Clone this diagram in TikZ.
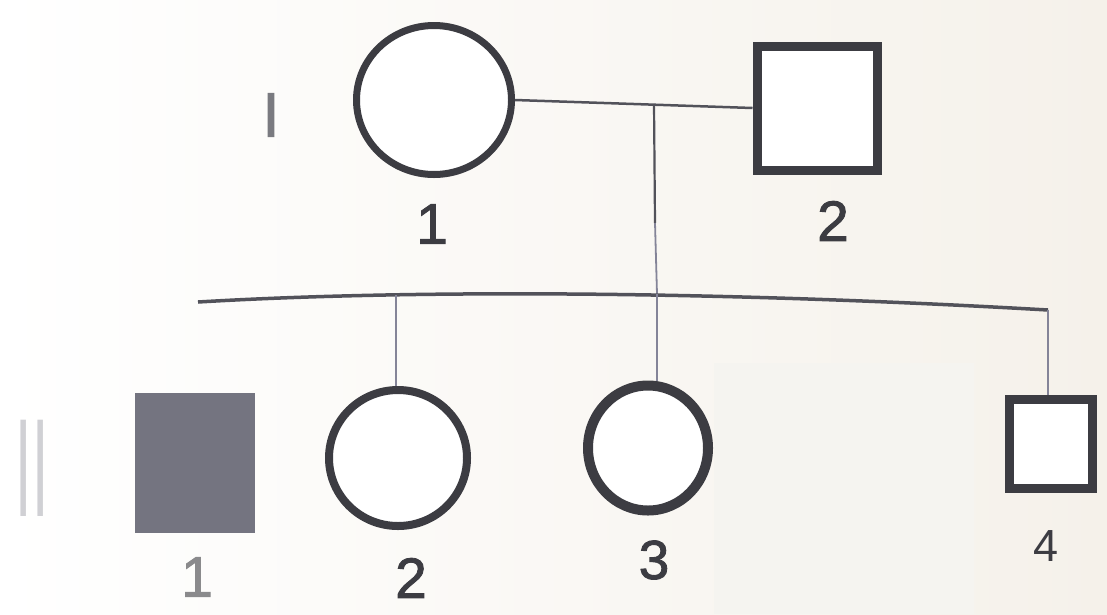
\documentclass[tikz,border=0pt]{standalone}
\usepackage{fontspec}
\setmainfont{Liberation Sans}
\newfontfamily\numfont{Liberation Sans}[FakeBold=1.6]
\usetikzlibrary{shapes.geometric}

\definecolor{ink}{RGB}{60,60,66}
\definecolor{linegray}{RGB}{82,82,90}
\definecolor{droplink}{RGB}{132,132,152}
\definecolor{shade}{RGB}{116,116,128}
\definecolor{paperwarm}{RGB}{245,241,234}
\definecolor{patch}{RGB}{245,244,240}

\tikzset{
  female/.style={ellipse, draw=ink, fill=white, inner sep=0pt},
  male/.style={rectangle, draw=ink, fill=white, inner sep=0pt},
  affected/.style={rectangle, fill=shade, inner sep=0pt},
  idlabel/.style={inner sep=0pt, text=ink, font=\numfont\fontsize{57}{57}\selectfont},
  genlabel/.style={inner sep=0pt},
  couple/.style={draw=linegray, line width=2.5pt},
  sibship/.style={draw=linegray, line width=3.5pt},
  drop/.style={draw=droplink, line width=1.8pt},
}

\begin{document}
\begin{tikzpicture}[x=1pt, y=-1pt]
  % page and paper tone
  \useasboundingbox (0,0) rectangle (1107,614);
  \shade[left color=white, middle color=white, right color=paperwarm] (0,0) rectangle (1107,614);

  % generation I
  \node[genlabel, text={rgb,255:red,122;green,122;blue,128}, font=\numfont\fontsize{63}{63}\selectfont] (genI) at (271,115) {I};
  \node[female, line width=7pt, minimum width=155pt, minimum height=149pt] (I1) at (434,100) {};
  \node[male, line width=9pt, minimum width=120pt, minimum height=124pt] (I2) at (817,108) {};
  \node[idlabel] (lI1) at (432,224) {1};
  \node[idlabel] (lI2) at (833,221) {2};

  % mating line and descent line
  \coordinate (m) at (654,104);
  \coordinate (k) at (655,223);
  \coordinate (sl) at (198,302);
  \coordinate (sr) at (1048,310);
  \coordinate (j2) at (396,295);
  \coordinate (j3) at (657,294);
  \draw[couple] (I1.east) -- (I2.west);
  \draw[couple, line width=2.2pt] (m) -- (k);
  \draw[drop] (k) -- (j3);

  % sibship line
  \draw[sibship] (sl) .. controls (400,290) and (700,290) .. (sr);

  % generation II
  \node[genlabel, text={rgb,255:red,208;green,208;blue,212}] (genII) at (32,468)
    {\scalebox{0.42}[1]{\fontsize{140}{140}\selectfont II}};
  \node[affected, minimum width=120pt, minimum height=140pt] (II1) at (195,463) {};
  \node[female, line width=8pt, minimum width=138pt, minimum height=136pt] (II2) at (398,458) {};
  \node[female, line width=10pt, minimum width=120pt, minimum height=125pt] (II3) at (648,448) {};
  \node[male, line width=9pt, minimum width=83pt, minimum height=89pt] (II4) at (1051,444) {};

  \draw[drop] (j2) -- (j2 |- II2.north);
  \draw[drop] (j3) -- (j3 |- II3.north);
  \draw[drop] (sr) -- (sr |- II4.north);

  % light paper patch over the space beside II-3
  \fill[patch] (714,363) rectangle (974,614);

  \node[idlabel, text={rgb,255:red,138;green,138;blue,140}] (lII1) at (197,577) {1};
  \node[idlabel] (lII2) at (411,578) {2};
  \node[idlabel, font=\numfont\fontsize{55}{55}\selectfont] (lII3) at (654,560) {3};
  \node[idlabel, font=\fontsize{45}{45}\selectfont] (lII4) at (1046,546) {4};
\end{tikzpicture}
\end{document}
